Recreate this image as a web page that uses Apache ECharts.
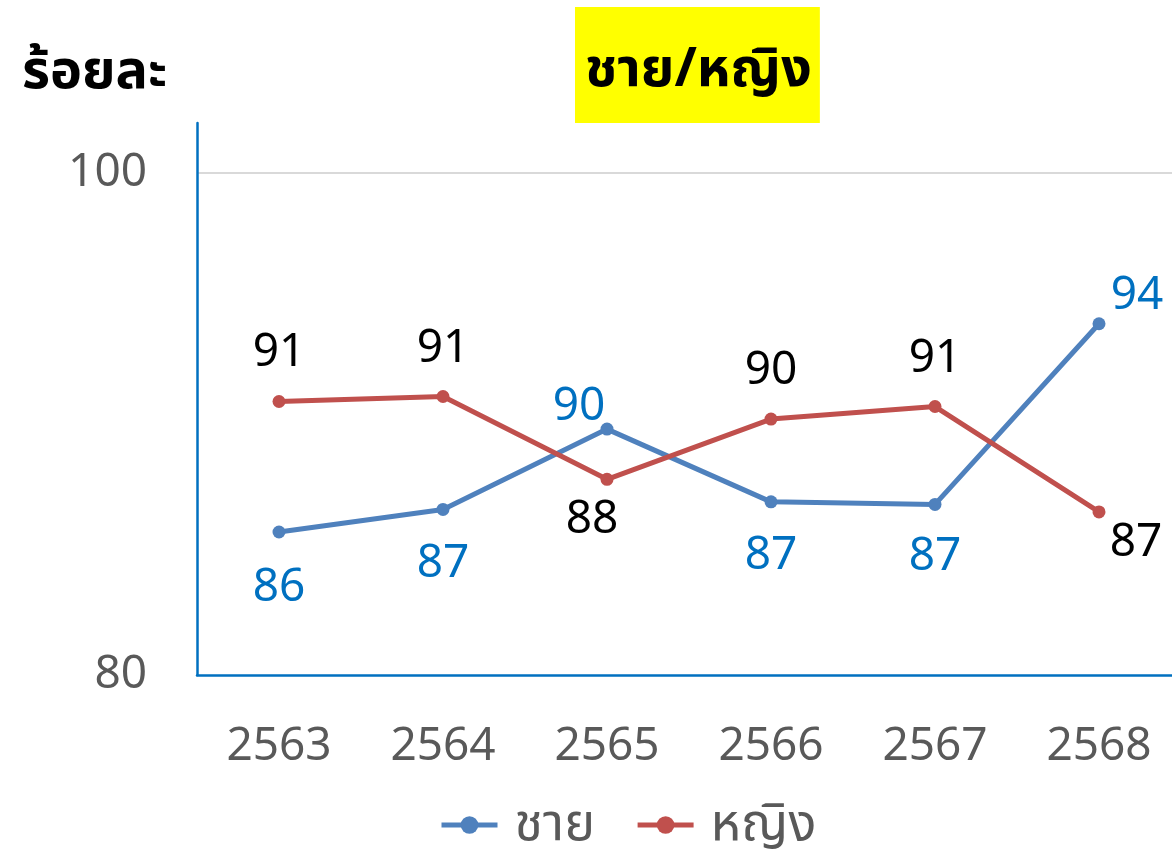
<!DOCTYPE html>
<html><head><meta charset="utf-8">
<script src="https://cdn.jsdelivr.net/npm/echarts@6/dist/echarts.min.js"></script>
<style>html,body{margin:0;padding:0;background:#fff}#c{width:1172px;height:856px}</style>
</head><body><div id="c"></div>
<script>
const categories = ['2563','2564','2565','2566','2567','2568'];
const maleValues = [85.7, 86.6, 89.8, 86.9, 86.8, 94.0];
const femaleValues = [90.9, 91.1, 87.8, 90.2, 90.7, 86.5];
const seriesNames = ['ชาย', 'หญิง'];
const yTicks = [80, 100];

const FONT = "'Noto Sans', 'Noto Sans Thai', 'Noto Sans Thai UI', sans-serif";
const maleOffsets = [[0,56],[0,54],[-28,-22],[0,54],[0,53],[38,-28]];
const femaleOffsets = [[0,-49],[0,-48],[-15,41],[0,-48],[0,-48],[37,31]];
function items(vals, offs){
  return vals.map((v,i)=>({value:v, label:{offset:offs[i]}}));
}
const chart = echarts.init(document.getElementById('c'));
chart.setOption({
  animation:false,
  title:[
    {text:'ชาย/หญิง', left:575, top:7, padding:[28,8,16,10], backgroundColor:'#FFFF00',
     textStyle:{fontFamily:FONT, fontWeight:'bold', fontSize:54, color:'#000',
       height:72, lineHeight:72}},
    {text:'ร้อยละ', left:22, top:46, padding:0,
     textStyle:{fontFamily:FONT, fontWeight:'bold', fontSize:54, color:'#000'}}
  ],
  legend:{
    left:434, bottom:0, itemWidth:56, itemHeight:22, itemGap:40,
    lineStyle:{width:5},
    textStyle:{fontFamily:FONT, fontSize:52, color:'#595959', padding:[0,0,0,12]},
    data:seriesNames
  },
  grid:{left:197, top:123, width:984, bottom:181, containLabel:false, outerBoundsMode:'none'},
  xAxis:{
    type:'category', data:categories, boundaryGap:true,
    axisLine:{lineStyle:{color:'#0070C0', width:2.5}},
    axisTick:{show:false},
    axisLabel:{fontFamily:FONT, fontSize:46, color:'#595959', margin:49}
  },
  yAxis:{
    type:'value', min:yTicks[0], max:102, interval:yTicks[1]-yTicks[0],
    axisLine:{show:true, lineStyle:{color:'#0070C0', width:2.5}},
    axisTick:{show:false},
    axisLabel:{fontFamily:FONT, fontSize:46, color:'#595959', margin:50, showMaxLabel:false},
    splitLine:{show:true, showMaxLine:false, showMinLine:false, lineStyle:{color:'#D9D9D9', width:2}}
  },
  series:[
    {name:seriesNames[0], type:'line', data:items(maleValues, maleOffsets),
     symbol:'circle', symbolSize:13,
     lineStyle:{color:'#4F81BD', width:5}, itemStyle:{color:'#4F81BD'},
     label:{show:true, position:'inside', fontFamily:FONT, fontSize:46, color:'#0070C0',
       formatter:p=>Math.round(p.value)}},
    {name:seriesNames[1], type:'line', data:items(femaleValues, femaleOffsets),
     symbol:'circle', symbolSize:13,
     lineStyle:{color:'#C0504D', width:5}, itemStyle:{color:'#C0504D'},
     label:{show:true, position:'inside', fontFamily:FONT, fontSize:46, color:'#000',
       formatter:p=>Math.round(p.value)}}
  ]
});
</script></body></html>
